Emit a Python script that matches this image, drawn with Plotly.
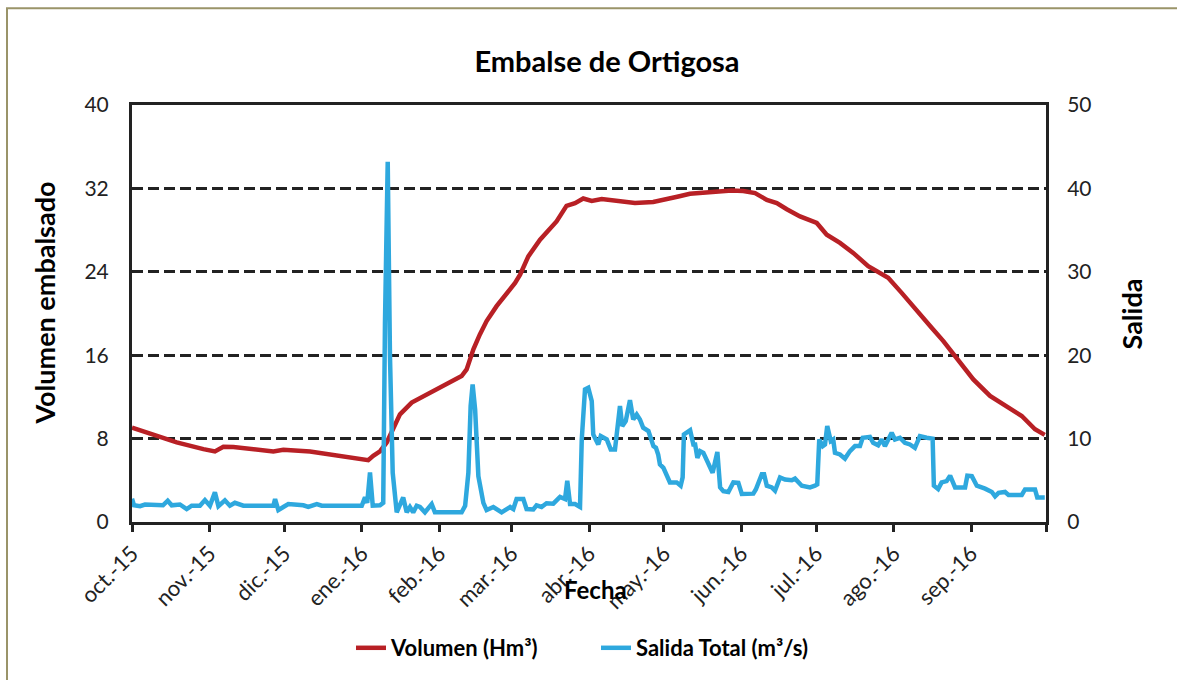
import pandas as pd
import plotly.graph_objects as go

START = "2015-10-01"

# Volumen (Hm3): day offset from 1 Oct 2015, value
vol_days = [0, 12.5, 17.9, 28.6, 33.2, 36.6, 40.6, 56.6, 60.6, 71.3, 94.6, 96.6, 99.3, 102, 104.6,
            107.3, 112, 119.3, 123.3, 127.3, 132, 134, 136.7, 139.3, 142, 146, 153.4, 155.4, 158.7,
            163.4, 170, 174, 177.4, 180.7, 184.1, 188.1, 195.4, 201.4, 208.7, 214.1, 218.8, 223.4,
            232.8, 240.1, 244.8, 249.5, 254.2, 258.2, 262.2, 267.5, 274.2, 278.2, 283.5, 288.8,
            294.8, 302.8, 308.2, 314.2, 320.2, 324.9, 332.9, 336.9, 343.6, 348.9, 356.3, 361.6, 365.5]
vol_vals = [9.06, 8.1, 7.63, 6.99, 6.77, 7.21, 7.2, 6.77, 6.92, 6.77, 5.93, 6.35, 6.77, 7.63, 9.06,
            10.33, 11.45, 12.4, 12.98, 13.43, 14.0, 14.64, 16.56, 17.99, 19.27, 20.7, 22.94, 23.73, 25.48,
            27.08, 28.83, 30.33, 30.59, 31.03, 30.8, 30.97, 30.8, 30.59, 30.7, 31.03, 31.22, 31.48,
            31.6, 31.8, 31.74, 31.55, 30.9, 30.59, 30.0, 29.31, 28.68, 27.56, 26.77, 25.81,
            24.53, 23.42, 21.98, 20.38, 18.63, 17.35, 14.96, 13.68, 12.09, 11.29, 10.17, 8.9, 8.36]

# Salida Total (m3/s): day offset from 1 Oct 2015, value
sal_days = [0, 0.8, 3.2, 5.2, 12.4, 14.3, 15.9, 19.2, 21.9, 23.9, 27.2, 29.2, 31.2, 33.2, 34.6, 35.9,
            37.2, 39.2, 41.2, 44.6, 56.6, 57.3, 58.6, 60.6, 62.6, 68.6, 70.6, 74, 76, 92, 93.3, 94.2,
            95.3, 96.4, 99.3, 100.6, 101.3, 102.4, 103.3, 104.4, 106, 108.6, 110, 111.3, 112.6, 114,
            115.3, 117.3, 120, 121.3, 132, 133.4, 134.7, 135.6, 136.4, 137.4, 138.7, 140.7, 142, 144.7,
            148, 151.4, 152.7, 154, 156.7, 158, 160.7, 162, 164, 166, 168.7, 171.4, 173.4, 174.3,
            175.4, 177.4, 179.4, 180.1, 181.4, 182.7, 184.1, 184.7, 186.7, 187.7, 190.1, 191.7,
            193.4, 195.4, 196.3, 197.7, 199.4, 200.7, 202.1, 203.4, 204.7, 206.8, 208.8, 209.8,
            210.7, 211.4, 212.8, 215.4, 218.1, 219.7, 220.5, 221, 223.5, 224.8, 225.5, 226.4, 227.5,
            228.8, 230.8, 232.5, 234.4, 235.5, 236.8, 238.8, 240.8, 242.8, 244.2, 248.8, 249.8,
            252.2, 253.1, 254.2, 256.2, 257.5, 259.5, 261.5, 264.2, 265.5, 268.2, 271.5, 273.5,
            274.4, 275.2, 276.6, 277.5, 278.4, 279.8, 280.8, 281.5, 283.5, 285.5, 287.5, 289.5,
            291.5, 292.6, 295.5, 296.8, 298.8, 300.2, 301.5, 302.2, 304.2, 305.5, 307.5, 309.5,
            311.5, 313.5, 315.5, 318.2, 320.6, 321.1, 322.8, 324.2, 326.2, 327.6, 329.6, 333.6,
            334.5, 336.3, 338.3, 341.6, 344.3, 345.6, 347, 349.6, 351, 356.3, 357.6, 361.6, 362.5, 365.5]
sal_vals = [2.8, 2.0, 1.9, 2.1, 2.0, 2.55, 2.0, 2.1, 1.55, 1.95, 1.95, 2.63, 1.95, 3.55, 1.9, 2.2,
            2.6, 1.95, 2.3, 1.95, 1.95, 2.75, 1.43, 1.8, 2.15, 2.0, 1.8, 2.15, 1.95, 1.95, 2.95, 2.3,
            5.94, 1.95, 2.0, 2.3, 23.9, 43.2, 19.9, 5.9, 1.16, 2.95, 1.16, 1.8, 1.16, 1.95,
            1.8, 1.16, 2.15, 1.16, 1.16, 1.95, 5.9, 13.9, 16.5, 13.5, 5.5, 2.3, 1.43, 1.8,
            1.16, 1.8, 1.55, 2.75, 2.75, 1.55, 1.5, 2.0, 1.8, 2.25, 2.2, 3.0, 2.75, 4.94,
            2.15, 2.15, 1.8, 9.9, 15.9, 16.1, 14.5, 10.5, 9.3, 10.3, 9.9, 8.7,
            8.7, 13.9, 11.5, 12.1, 14.6, 12.3, 12.9, 12.3, 11.3, 10.9, 9.1, 8.9,
            8.1, 6.9, 6.5, 4.75, 4.75, 4.35, 5.35, 10.5, 11.0, 9.3, 9.3, 7.7, 8.5,
            8.3, 7.1, 5.9, 8.4, 4.15, 3.7, 3.6, 4.75, 4.7, 3.35, 3.4, 3.9,
            5.74, 5.74, 4.35, 4.15, 3.75, 5.35, 5.1, 5.0, 5.2, 4.35, 4.15, 4.35,
            4.5, 9.9, 9.1, 9.3, 11.5, 9.7, 9.9, 8.3, 8.1, 7.6, 8.5, 9.1,
            9.1, 10.1, 10.2, 9.5, 9.2, 9.9, 9.1, 9.5, 10.7, 9.9, 10.1, 9.5,
            9.3, 8.9, 10.3, 10.1, 10.0, 4.35, 3.95, 4.75, 4.9, 5.55, 4.15, 4.15,
            5.55, 5.5, 4.35, 4.0, 3.6, 3.07, 3.5, 3.6, 3.25, 3.25, 3.9, 3.9, 2.95, 2.95]

month_ticks = ["2015-10-01", "2015-11-01", "2015-12-01", "2016-01-01", "2016-02-01", "2016-03-01",
               "2016-04-01", "2016-05-01", "2016-06-01", "2016-07-01", "2016-08-01", "2016-09-01",
               "2016-10-01"]
month_labels = ["oct.-15", "nov.-15", "dic.-15", "ene.-16", "feb.-16", "mar.-16", "abr.-16",
                "may.-16", "jun.-16", "jul.-16", "ago.-16", "sep.-16", ""]

base = pd.Timestamp(START)
vol_dates = base + pd.to_timedelta(vol_days, unit="D")
sal_dates = base + pd.to_timedelta(sal_days, unit="D")

FONT = "Lato, 'Noto Sans', sans-serif"
RED = "#B82025"
BLUE = "#2EA8DE"
INK = "#222222"

# plot-area pixel box in the page
PL, PR, PT, PB = 132, 1046, 105, 523
PW, PH = PR - PL, PB - PT

fig = go.Figure()
fig.add_trace(go.Scatter(x=vol_dates, y=vol_vals, name="<b>Volumen (Hm³)</b>", mode="lines",
                         line=dict(color=RED, width=4.5), yaxis="y"))
fig.add_trace(go.Scatter(x=sal_dates, y=sal_vals, name="<b>Salida Total (m³/s)</b>", mode="lines",
                         line=dict(color=BLUE, width=4.5), yaxis="y2"))

fig.update_layout(
    width=1177, height=680,
    margin=dict(l=PL, r=1177 - PR, t=PT, b=680 - PB),
    paper_bgcolor="white", plot_bgcolor="white",
    font=dict(family=FONT, size=21, color=INK),
    title=dict(text="<b>Embalse de Ortigosa</b>", x=(607 - PL) / PW, xref="paper", xanchor="center",
               y=1 - 62 / 680, yanchor="middle", font=dict(size=29, color="black", family=FONT)),
    xaxis=dict(
        range=["2015-10-01", "2016-10-01"], tickmode="array", tickvals=month_ticks,
        ticktext=month_labels, tickangle=-45, ticks="outside", ticklen=7, tickwidth=2.5,
        tickcolor=INK, showline=True, linecolor=INK, linewidth=3, mirror=True,
        showgrid=False, zeroline=False, tickfont=dict(size=22, color=INK),
    ),
    yaxis=dict(
        range=[0, 40], dtick=8, tick0=0, ticks="inside", ticklen=8, tickwidth=2.5, tickcolor=INK,
        showline=True, linecolor=INK, linewidth=3, showgrid=True, gridcolor=INK,
        griddash="11px,5px", gridwidth=2.5, zeroline=False, tickfont=dict(size=21, color=INK),
        ticklabelstandoff=16,
    ),
    yaxis2=dict(
        range=[0, 50], dtick=10, tick0=0, overlaying="y", side="right", ticks="",
        showline=True, linecolor=INK, linewidth=3, showgrid=False, zeroline=False,
        tickfont=dict(size=21, color=INK), ticklabelstandoff=14,
    ),
    legend=dict(orientation="h", x=(351 - PL) / PW, xanchor="left", y=(PB - 648) / PH,
                yanchor="middle", font=dict(size=22, color="black", family=FONT),
                entrywidth=200, entrywidthmode="pixels", bgcolor="rgba(0,0,0,0)"),
    showlegend=True,
)

annotations = [
    dict(text="<b>Volumen embalsado</b>", x=(45 - PL) / PW, y=(PB - 304) / PH, xref="paper",
         yref="paper", textangle=-90, showarrow=False, font=dict(size=27, color="black", family=FONT),
         xanchor="center", yanchor="middle"),
    dict(text="<b>Salida</b>", x=(1131 - PL) / PW, y=(PB - 315) / PH, xref="paper", yref="paper",
         textangle=-90, showarrow=False, font=dict(size=27, color="black", family=FONT),
         xanchor="center", yanchor="middle"),
    dict(text="<b>Fecha</b>", x=(595 - PL) / PW, y=(PB - 591) / PH, xref="paper", yref="paper",
         showarrow=False, font=dict(size=24, color="black", family=FONT),
         xanchor="center", yanchor="middle"),
]
fig.update_layout(annotations=annotations)

# outer chart-area border (olive)
fig.add_shape(type="rect", xref="paper", yref="paper",
              x0=(7 - PL) / PW, x1=(1190 - PL) / PW,
              y0=(PB - 700) / PH, y1=(PB - 8) / PH,
              line=dict(color="#9A9469", width=2), fillcolor="rgba(0,0,0,0)", layer="below")

fig.write_html("out.html", post_script="document.body.style.margin='0';",
               config={"displayModeBar": False})
